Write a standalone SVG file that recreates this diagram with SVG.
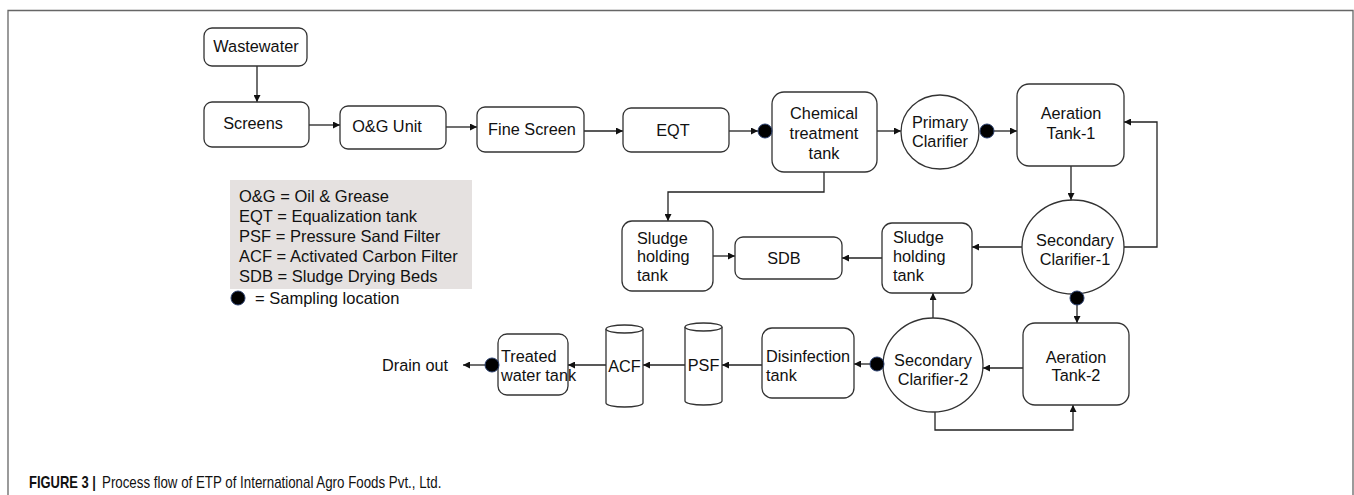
<svg xmlns="http://www.w3.org/2000/svg" width="1354" height="495" viewBox="0 0 1354 495">
<style>
.box{fill:#fff;stroke:#333;stroke-width:1.3}
.t{font-family:"Liberation Sans",Arial,sans-serif;font-size:16.3px;fill:#111}
.m{text-anchor:middle}
.lg{font-family:"Liberation Sans",Arial,sans-serif;font-size:16.5px;fill:#111}
.c{fill:none;stroke:#222;stroke-width:1.3}
.dot{fill:#000;stroke:#2a3f6e;stroke-width:1}
.cap{font-family:"Liberation Sans",Arial,sans-serif;font-size:16px;fill:#111}
</style>
<defs>
<marker id="ah" viewBox="0 0 10 10" refX="10" refY="5" markerWidth="7" markerHeight="7" markerUnits="userSpaceOnUse" orient="auto">
<path d="M0,0 L10,5 L0,10 Z" fill="#111"/>
</marker>
</defs>
<rect width="1354" height="495" fill="#fff"/>
<path d="M8,495 V10.5 H1353 V495" fill="none" stroke="#666" stroke-width="1.3"/>

<g id="connectors">
<path class="c" d="M257,66 V102" marker-end="url(#ah)"/>
<path class="c" d="M309,125 H340" marker-end="url(#ah)"/>
<path class="c" d="M446,127 H477" marker-end="url(#ah)"/>
<path class="c" d="M584,131 H623" marker-end="url(#ah)"/>
<path class="c" d="M729,131 H758" marker-end="url(#ah)"/>
<path class="c" d="M877,131 H901" marker-end="url(#ah)"/>
<path class="c" d="M994,131 H1017" marker-end="url(#ah)"/>
<path class="c" d="M824,172 V192 H668 V221" marker-end="url(#ah)"/>
<path class="c" d="M713,256 H735" marker-end="url(#ah)"/>
<path class="c" d="M882,258 H842" marker-end="url(#ah)"/>
<path class="c" d="M1023,247 H972" marker-end="url(#ah)"/>
<path class="c" d="M1124,247 H1157 V122 H1124" marker-end="url(#ah)"/>
<path class="c" d="M1071,166 V200" marker-end="url(#ah)"/>
<path class="c" d="M1077,305 V323" marker-end="url(#ah)"/>
<path class="c" d="M1023,368 H983" marker-end="url(#ah)"/>
<path class="c" d="M933,318 V293" marker-end="url(#ah)"/>
<path class="c" d="M935,412 V430 H1073 V405" marker-end="url(#ah)"/>
<path class="c" d="M870,364 H854" marker-end="url(#ah)"/>
<path class="c" d="M762,365 H722" marker-end="url(#ah)"/>
<path class="c" d="M685,365 H643" marker-end="url(#ah)"/>
<path class="c" d="M606,365 H568" marker-end="url(#ah)"/>
<path class="c" d="M485,365 H463" marker-end="url(#ah)"/>
</g>

<g id="wastewater"><rect class="box" x="204" y="28" width="103" height="38" rx="8"/><text class="t m" x="256" y="52">Wastewater</text></g>
<g id="screens"><rect class="box" x="204" y="102" width="105" height="45" rx="8"/><text class="t m" x="253" y="129">Screens</text></g>
<g id="og-unit"><rect class="box" x="340" y="106" width="106" height="43" rx="8"/><text class="t m" x="387" y="132">O&amp;G Unit</text></g>
<g id="fine-screen"><rect class="box" x="477" y="107" width="107" height="45" rx="8"/><text class="t m" x="532" y="135">Fine Screen</text></g>
<g id="eqt"><rect class="box" x="623" y="108" width="106" height="44" rx="8"/><text class="t m" x="673" y="136">EQT</text></g>
<g id="chemical"><rect class="box" x="772" y="92" width="105" height="80" rx="12"/><text class="t m" x="824" y="119">Chemical</text><text class="t m" x="824" y="139">treatment</text><text class="t m" x="824" y="159">tank</text></g>
<g id="primary-clarifier"><ellipse class="box" cx="940" cy="132" rx="39" ry="37"/><text class="t m" x="940" y="128">Primary</text><text class="t m" x="940" y="147">Clarifier</text></g>
<g id="aeration-1"><rect class="box" x="1017" y="84" width="107" height="82" rx="12"/><text class="t m" x="1071" y="119">Aeration</text><text class="t m" x="1071" y="139">Tank-1</text></g>
<g id="secondary-clarifier-1"><ellipse class="box" cx="1073" cy="247" rx="51" ry="47"/><text class="t m" x="1075" y="246">Secondary</text><text class="t m" x="1075" y="265">Clarifier-1</text></g>
<g id="sludge-left"><rect class="box" x="622" y="221" width="91" height="70" rx="10"/><text class="t" x="637" y="244">Sludge</text><text class="t" x="637" y="262">holding</text><text class="t" x="637" y="281">tank</text></g>
<g id="sdb"><rect class="box" x="735" y="237" width="107" height="42" rx="8"/><text class="t m" x="784" y="264">SDB</text></g>
<g id="sludge-right"><rect class="box" x="882" y="223" width="90" height="70" rx="10"/><text class="t" x="893" y="243">Sludge</text><text class="t" x="893" y="262">holding</text><text class="t" x="893" y="281">tank</text></g>
<g id="aeration-2"><rect class="box" x="1023" y="323" width="106" height="82" rx="12"/><text class="t m" x="1076" y="363">Aeration</text><text class="t m" x="1076" y="381">Tank-2</text></g>
<g id="secondary-clarifier-2"><ellipse class="box" cx="933" cy="365" rx="50" ry="47"/><text class="t m" x="933" y="366">Secondary</text><text class="t m" x="933" y="385">Clarifier-2</text></g>
<g id="disinfection"><rect class="box" x="762" y="328" width="92" height="70" rx="10"/><text class="t" x="766" y="362">Disinfection</text><text class="t" x="766" y="381">tank</text></g>
<g id="psf"><path class="box" d="M685,327 V401 A18.5,4 0 0 0 722,401 V327"/><ellipse class="box" cx="703.5" cy="327" rx="18.5" ry="4"/><text class="t m" x="703.5" y="371">PSF</text></g>
<g id="acf"><path class="box" d="M606,329 V403 A18.5,4 0 0 0 643,403 V329"/><ellipse class="box" cx="624.5" cy="329" rx="18.5" ry="4"/><text class="t m" x="624.5" y="372">ACF</text></g>
<g id="treated"><rect class="box" x="498" y="334" width="70" height="61" rx="9"/><text class="t" x="501" y="362">Treated</text><text class="t" x="501" y="381">water tank</text></g>
<g id="drain-out"><text class="t" x="382" y="371">Drain out</text></g>

<g id="dots">
<circle class="dot" cx="765" cy="131" r="7"/>
<circle class="dot" cx="987" cy="131" r="7"/>
<circle class="dot" cx="1077" cy="298" r="7"/>
<circle class="dot" cx="877" cy="364" r="7"/>
<circle class="dot" cx="492" cy="365" r="7"/>
</g>

<g id="legend">
<rect x="230" y="180" width="242" height="109" fill="#e5e1e0"/>
<text class="lg" x="239" y="202">O&amp;G = Oil &amp; Grease</text>
<text class="lg" x="239" y="222">EQT = Equalization tank</text>
<text class="lg" x="239" y="242">PSF = Pressure Sand Filter</text>
<text class="lg" x="239" y="262">ACF = Activated Carbon Filter</text>
<text class="lg" x="239" y="282">SDB = Sludge Drying Beds</text>
<circle class="dot" cx="238" cy="298" r="7"/>
<text class="lg" x="255" y="304">= Sampling location</text>
</g>

<g id="caption">
<text class="cap" transform="translate(29,488) scale(0.81,1)" font-weight="bold">FIGURE 3 |</text>
<text class="cap" transform="translate(102,488) scale(0.81,1)" textLength="419" lengthAdjust="spacingAndGlyphs">Process flow of ETP of International Agro Foods Pvt., Ltd.</text>
</g>
</svg>
